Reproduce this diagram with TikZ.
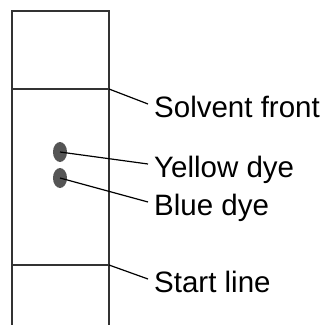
\documentclass[tikz,border=0pt]{standalone}
\usepackage{fontspec}
\setmainfont{Liberation Sans}
\usepackage{tikz}
\usetikzlibrary{shapes}
\usetikzlibrary{positioning}
\usetikzlibrary{calc}
\definecolor{plategray}{HTML}{333333}
\definecolor{spotgray}{HTML}{555555}
\tikzset{plate/.style={draw=plategray, line width=1.8pt},
         leader/.style={draw=black, line width=1.2pt},
         spot/.style={ellipse, fill=spotgray, minimum width=14pt, minimum height=20pt, inner sep=0pt},
         tag/.style={anchor=base west, inner xsep=6pt, inner ysep=0pt, text height=26pt, text depth=0pt,
                     font=\fontsize{29.5}{35}\selectfont}
}

\begin{document}
\begin{tikzpicture}[x=1pt, y=-1pt]
  \useasboundingbox (0, 0) rectangle (324, 325);

  % the plate
  \draw[plate] (12, 325) -- (12, 11) -- (109, 11) -- (109, 325);
  \coordinate (front) at (109, 89);
  \coordinate (start) at (109, 265);
  \draw[plate] (12, 89) -- (front);
  \draw[plate] (12, 265) -- (start);

  \node[spot] (yellow) at (60, 152) {};
  \node[spot] (blue) at (60, 178) {};

  \node[tag] (frontlbl) at (148, 117) {Solvent front};
  \node[tag] (yellowlbl) at (148, 177) {Yellow dye};
  \node[tag] (bluelbl) at (148, 215) {Blue dye};
  \node[tag] (startlbl) at (148, 292) {Start line};

  \draw[leader] (front) -- (frontlbl.west);
  \draw[leader] (yellow.center) -- (yellowlbl.west);
  \draw[leader] (blue.center) -- (bluelbl.west);
  \draw[leader] (start) -- (startlbl.west);
\end{tikzpicture}
\end{document}
